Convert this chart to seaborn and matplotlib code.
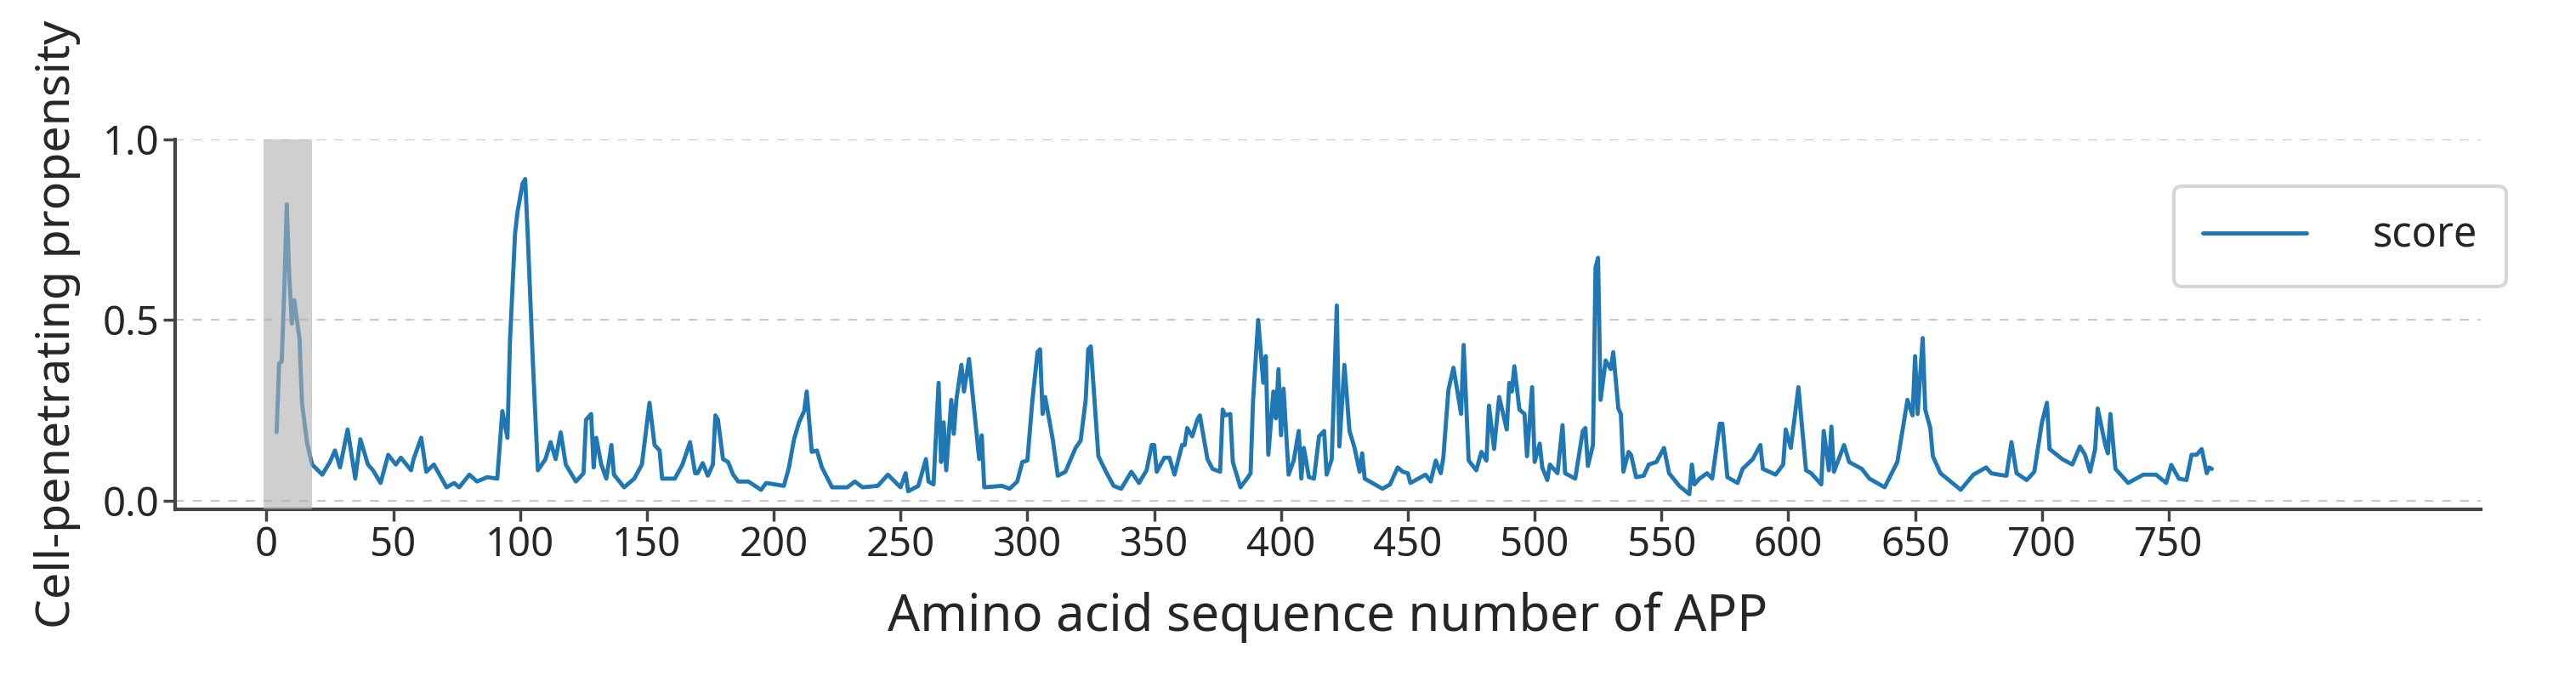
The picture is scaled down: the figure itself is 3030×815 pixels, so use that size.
import matplotlib
matplotlib.use("Agg")
import matplotlib.pyplot as plt
import seaborn as sns
import pandas as pd

positions = [4,5,6,7,8,9,10,11,12,13,14,16,18,22,25,27,29,32,35,37,40,42,45,48,51,53,57,58,61,63,66,71,74,76,80,83,87,91,93,95,96,98,99,101,102,103,105,107,110,112,114,116,118,122,125,126,128,129,130,132,134,136,137,141,145,148,151,153,155,156,161,164,167,169,
170,172,174,176,177,178,180,182,184,186,190,195,197,204,206,208,210,212,213,215,217,219,223,229,232,235,241,245,250,252,253,257,260,261,263,265,266,267,268,270,271,272,274,275,277,281,282,283,290,293,296,298,300,302,304,305,306,307,310,312,315,319,321,323,324,325,328,331,334,337,
341,344,347,349,350,351,354,356,358,361,362,363,365,367,368,371,373,376,377,378,380,381,384,387,388,389,391,393,394,395,397,398,399,400,401,403,405,407,408,409,411,413,415,417,418,420,422,423,425,427,429,431,432,433,437,440,443,446,448,450,451,457,459,461,463,464,466,468,471,472,474,477,479,481,482,484,486,489,490,491,492,494,496,497,499,500,502,503,505,506,509,511,512,516,
519,520,521,523,524,525,526,528,530,531,533,534,535,537,538,540,543,545,548,551,553,557,561,562,563,565,568,570,573,574,576,580,582,586,589,590,595,598,599,601,604,607,609,613,614,616,617,618,622,624,629,632,638,643,647,649,650,651,653,654,656,657,660,664,668,673,678,680,683,686,688,690,
694,697,700,702,703,708,712,715,717,719,721,722,725,726,727,729,734,740,745,749,751,754,757,759,761,763,765,766,767]

scores = [0.19,0.38,0.385,0.58,0.82,0.62,0.49,0.555,0.50,0.45,0.27,0.16,0.10,0.072,0.107,0.139,0.092,0.197,0.061,0.17,0.10,0.084,0.049,0.127,0.10,0.119,0.084,0.115,0.174,0.080,0.10,0.037,0.049,0.037,0.072,0.053,0.065,0.061,0.248,0.174,0.44,0.738,0.80,0.878,0.89,0.738,0.388,0.084,0.115,0.162,0.115,0.189,0.10,0.053,0.076,0.224,0.24,0.092,0.174,0.10,0.061,0.154,0.072,0.037,0.061,0.10,0.271,0.154,0.139,0.061,0.061,0.10,0.162,0.076,
0.076,0.104,0.069,0.10,0.236,0.224,0.115,0.107,0.072,0.053,0.053,0.030,0.049,0.041,0.092,0.170,0.217,0.248,0.302,0.135,0.139,0.092,0.037,0.037,0.053,0.037,0.041,0.072,0.037,0.076,0.026,0.041,0.115,0.053,0.045,0.326,0.107,0.217,0.084,0.279,0.185,0.279,0.376,0.302,0.392,0.115,0.181,0.037,0.041,0.033,0.053,0.107,0.111,0.279,0.411,0.419,0.24,0.287,0.17,0.069,0.080,0.146,0.166,0.279,0.419,0.427,0.123,0.080,0.041,0.033,
0.080,0.049,0.084,0.154,0.154,0.080,0.119,0.119,0.072,0.154,0.154,0.201,0.178,0.224,0.236,0.115,0.088,0.080,0.252,0.236,0.240,0.107,0.037,0.065,0.076,0.279,0.50,0.326,0.40,0.127,0.302,0.228,0.364,0.181,0.310,0.072,0.111,0.193,0.061,0.146,0.065,0.061,0.178,0.193,0.072,0.115,0.54,0.15,0.376,0.193,0.146,0.080,0.131,0.061,0.045,0.033,0.045,0.092,0.080,0.076,0.049,0.072,0.053,0.111,0.076,0.119,0.306,0.368,0.24,0.431,0.111,0.084,0.135,0.111,0.263,0.143,0.287,0.197,0.326,0.302,0.372,0.252,0.240,0.123,0.314,0.107,0.158,0.092,0.057,0.10,0.076,0.209,0.076,0.061,
0.193,0.201,0.096,0.154,0.645,0.672,0.279,0.388,0.364,0.411,0.255,0.24,0.080,0.135,0.127,0.065,0.069,0.10,0.107,0.146,0.076,0.041,0.018,0.10,0.045,0.061,0.076,0.061,0.213,0.213,0.065,0.049,0.088,0.115,0.154,0.088,0.072,0.10,0.197,0.146,0.314,0.084,0.076,0.045,0.193,0.084,0.205,0.080,0.154,0.107,0.088,0.061,0.037,0.107,0.279,0.236,0.40,0.24,0.45,0.252,0.201,0.123,0.076,0.053,0.030,0.072,0.092,0.076,0.072,0.069,0.162,0.076,
0.057,0.080,0.216,0.271,0.143,0.115,0.10,0.150,0.127,0.080,0.143,0.255,0.154,0.131,0.24,0.088,0.049,0.072,0.072,0.049,0.099,0.061,0.057,0.127,0.127,0.143,0.076,0.092,0.088]

highlight = (-1, 18)
yticks = [0.0, 0.5, 1.0]
xticks = list(range(0, 751, 50))

sns.set_theme(style="ticks")
plt.rcParams['font.family'] = ['Noto Sans', 'DejaVu Sans']

df = pd.DataFrame({"pos": positions, "score": scores})
fig = plt.figure(figsize=(30.3, 8.15), dpi=100)
ax = fig.add_axes([0.068, 0.265, 0.895, 0.534])
sns.lineplot(data=df, x="pos", y="score", ax=ax, color="#1f77b4", linewidth=3.5, label="score")
ax.axvspan(*highlight, color="#b0b0b0", alpha=0.6, lw=0, zorder=3)
ax.set_xlim(-36, 873)
ax.set_ylim(-0.024, 1.0)
ax.set_xticks(xticks)
ax.set_yticks(yticks)
ax.set_yticklabels(["0.0", "0.5", "1.0"])
for y in yticks:
    ax.axhline(y, color="#c8c8c8", ls=(0, (5, 5)), lw=1.5, zorder=0)
ax.tick_params(axis="both", labelsize=34, width=2.5, length=10, color="#444444")
for s in ["left", "bottom"]:
    ax.spines[s].set_linewidth(3)
    ax.spines[s].set_color("#444444")
sns.despine(ax=ax)
ax.set_xlabel("Amino acid sequence number of APP", fontsize=43, labelpad=22)
ax.set_ylabel("Cell-penetrating propensity", fontsize=40, labelpad=18)
leg = ax.legend(loc="upper right", bbox_to_anchor=(1.02, 0.93), fontsize=35,
                frameon=True, fancybox=True, borderpad=0.7, handlelength=2.5, handletextpad=1.6)
leg.get_frame().set_edgecolor("#cccccc")
leg.get_frame().set_linewidth(3)
fig.savefig("out.png", dpi=100, facecolor="white")
